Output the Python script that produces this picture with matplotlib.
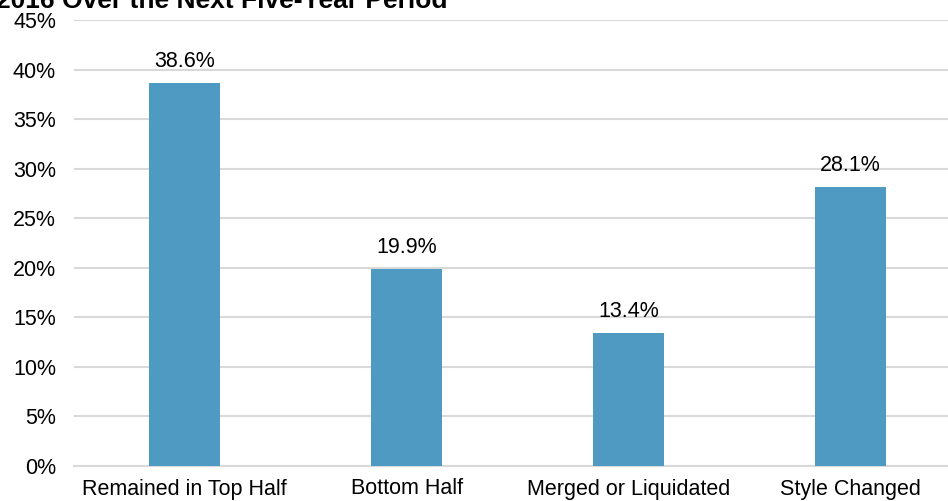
import matplotlib
matplotlib.use("Agg")
import matplotlib.pyplot as plt
from matplotlib.ticker import PercentFormatter, MultipleLocator

plt.rcParams['font.family'] = ['Liberation Sans', 'DejaVu Sans']

categories = ["Remained in Top Half", "Bottom Half", "Merged or Liquidated", "Style Changed"]
values = [38.6, 19.9, 13.4, 28.1]
title = "2016 Over the Next Five-Year Period"

bar_color = "#4f9ac3"
grid_color = "#d9d9d9"
fs = 15.5

fig = plt.figure(figsize=(9.48, 5.01), dpi=100)
# axes run a little past the right edge, as in the source image
ax = fig.add_axes([74 / 948, 1 - 466 / 501, (961 - 74) / 948, (466 - 20) / 501])

x = range(len(categories))
bars = ax.bar(x, values, width=0.32, color=bar_color, zorder=3)
for b, v in zip(bars, values):
    ax.annotate(f"{v:.1f}%", (b.get_x() + b.get_width() / 2, v),
                xytext=(0, 8), textcoords="offset points",
                ha="center", va="bottom", fontsize=fs)

ax.set_xlim(-0.5, len(categories) - 0.5)
ax.set_ylim(0, 45)
ax.yaxis.set_major_locator(MultipleLocator(5))
ax.yaxis.set_major_formatter(PercentFormatter(decimals=0))
ax.set_xticks(list(x))
ax.set_xticklabels(categories)
ax.grid(axis="y", color=grid_color, linewidth=1.5, zorder=0)
ax.tick_params(axis="both", length=0, labelsize=fs)
ax.tick_params(axis="x", pad=9)
ax.tick_params(axis="y", pad=13)
for s in ["left", "right", "top"]:
    ax.spines[s].set_visible(False)
ax.spines["bottom"].set_color(grid_color)
ax.spines["bottom"].set_linewidth(1.5)

# title sits mostly above the top edge, cropped like the source
fig.text(-0.004, 1 - 8 / 501, title, fontsize=19, fontweight="bold",
         ha="left", va="baseline")

fig.savefig("out.png", dpi=100)
